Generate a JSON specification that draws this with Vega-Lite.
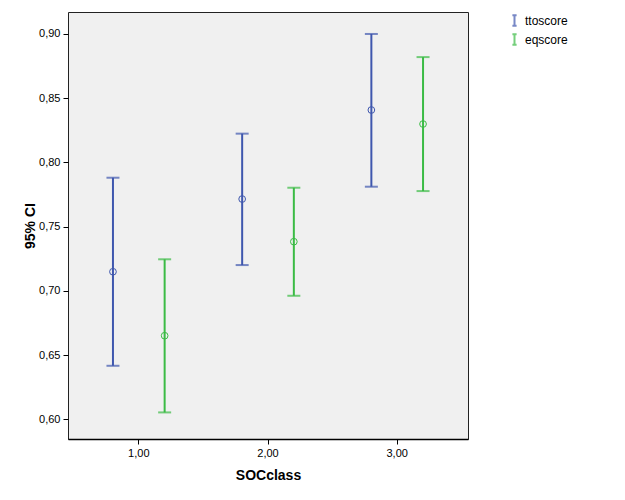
{
  "$schema": "https://vega.github.io/schema/vega-lite/v6.json",
  "autosize": "none",
  "width": 400,
  "height": 427,
  "padding": {"left": 68, "top": 12, "right": 157, "bottom": 61},
  "background": "white",
  "config": {
    "font": "Liberation Sans",
    "view": {"fill": "#f0f0f0", "stroke": "#222222", "strokeWidth": 1},
    "axis": {"labelFont": "Liberation Sans", "titleFont": "Liberation Sans", "labelColor": "#000", "titleColor": "#000", "tickColor": "#000", "domainColor": "#000", "grid": false}
  },
  "data": {
    "values": [
      {"SOCclass": 1, "series": "ttoscore", "mean": 0.7149, "lower": 0.6417, "upper": 0.7881},
      {"SOCclass": 1, "series": "eqscore", "mean": 0.6651, "lower": 0.6054, "upper": 0.7246},
      {"SOCclass": 2, "series": "ttoscore", "mean": 0.7715, "lower": 0.7201, "upper": 0.8224},
      {"SOCclass": 2, "series": "eqscore", "mean": 0.7383, "lower": 0.6962, "upper": 0.7803},
      {"SOCclass": 3, "series": "ttoscore", "mean": 0.8408, "lower": 0.7811, "upper": 0.9000},
      {"SOCclass": 3, "series": "eqscore", "mean": 0.8299, "lower": 0.7777, "upper": 0.8820}
    ]
  },
  "encoding": {
    "x": {
      "field": "SOCclass", "type": "ordinal",
      "scale": {"paddingInner": 0, "paddingOuter": 0.048},
      "axis": {
        "title": "SOCclass", "titleFontSize": 14, "titleFontWeight": "bold", "titlePadding": 10,
        "labelAngle": 0, "labelFontSize": 11, "labelPadding": 3, "tickSize": 5,
        "domainWidth": 1.5,
        "labelExpr": "replace(format(toNumber(datum.value), '.2f'), '.', ',')"
      }
    },
    "xOffset": {
      "field": "series", "type": "nominal",
      "scale": {"domain": ["ttoscore", "eqscore"], "paddingInner": 0, "paddingOuter": 0.25}
    },
    "color": {
      "field": "series", "type": "nominal",
      "scale": {"domain": ["ttoscore", "eqscore"], "range": ["#3f57ae", "#3bbb45"]},
      "legend": {
        "title": null, "orient": "none", "legendX": 440, "legendY": 2,
        "symbolType": "M-0.4,-1H0.4M0,-1V1M-0.4,1H0.4",
        "symbolSize": 110, "symbolStrokeWidth": 2, "symbolFillColor": "transparent",
        "labelFontSize": 12, "labelColor": "#000", "labelOffset": 4, "rowPadding": 0
      }
    }
  },
  "layer": [
    {
      "mark": {"type": "rule", "strokeWidth": 2},
      "encoding": {
        "y": {
          "field": "lower", "type": "quantitative",
          "scale": {"domain": [0.5847, 0.9171], "nice": false, "zero": false},
          "axis": {
            "title": "95% CI", "titleFontSize": 14, "titleFontWeight": "bold", "titlePadding": 1,
            "values": [0.6, 0.65, 0.7, 0.75, 0.8, 0.85, 0.9],
            "labelFontSize": 11, "labelPadding": 3, "tickSize": 5, "domain": false,
            "labelExpr": "replace(format(datum.value, '.2f'), '.', ',')"
          }
        },
        "y2": {"field": "upper"}
      }
    },
    {
      "mark": {"type": "tick", "size": 13, "thickness": 2},
      "encoding": {"y": {"field": "lower", "type": "quantitative"}}
    },
    {
      "mark": {"type": "tick", "size": 13, "thickness": 2},
      "encoding": {"y": {"field": "upper", "type": "quantitative"}}
    },
    {
      "mark": {"type": "point", "shape": "circle", "filled": false, "size": 45, "strokeWidth": 1, "opacity": 1},
      "encoding": {"y": {"field": "mean", "type": "quantitative"}}
    }
  ]
}
